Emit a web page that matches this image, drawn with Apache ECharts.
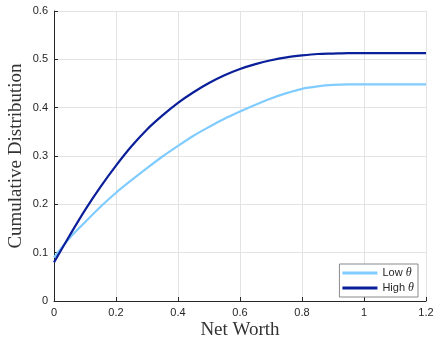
<!DOCTYPE html>
<html>
<head>
<meta charset="utf-8">
<script src="https://cdn.jsdelivr.net/npm/echarts@6/dist/echarts.min.js"></script>
<style>
  html, body { margin: 0; padding: 0; background: #fff; }
  #chart { width: 436px; height: 339px; }
</style>
</head>
<body>
<div id="chart"></div>
<script>
// net worth grid (x) and the two cumulative distributions
const netWorth = [0, 0.05, 0.1, 0.15, 0.2, 0.25, 0.3, 0.35, 0.4, 0.45, 0.5, 0.55, 0.6,
                  0.65, 0.7, 0.75, 0.8, 0.85, 0.9, 0.95, 1.0, 1.1, 1.2];
const lowTheta = [0.090, 0.130, 0.163, 0.195, 0.224, 0.250, 0.275, 0.299, 0.321, 0.342, 0.360, 0.377, 0.392,
                  0.406, 0.419, 0.430, 0.439, 0.444, 0.447, 0.448, 0.448, 0.448, 0.448];
const highTheta = [0.080, 0.135, 0.188, 0.236, 0.280, 0.320, 0.355, 0.384, 0.410, 0.432, 0.451, 0.467, 0.480,
                   0.490, 0.498, 0.504, 0.508, 0.511, 0.512, 0.513, 0.513, 0.513, 0.513];
const seriesNames = ['Low θ', 'High θ'];
const xTicks = [0, 0.2, 0.4, 0.6, 0.8, 1, 1.2];
const yTicks = [0, 0.1, 0.2, 0.3, 0.4, 0.5, 0.6];

const chart = echarts.init(document.getElementById('chart'));

const axisColor = '#262626';
const gridColor = '#e3e3e3';
const sans = 'Liberation Sans, Arial, sans-serif';
const serif = 'Liberation Serif, Times New Roman, serif';

function pairs(ys) {
  return netWorth.map((x, i) => [x, ys[i]]);
}

const option = {
  animation: false,
  grid: { left: 54, right: 10, top: 11, bottom: 38, containLabel: false, outerBoundsMode: 'none' },
  legend: {
    orient: 'vertical',
    right: 18,
    bottom: 42,
    backgroundColor: '#fff',
    borderColor: '#8a8a8a',
    borderWidth: 1,
    padding: [3, 4, 3, 3],
    itemGap: 3,
    itemWidth: 35,
    itemHeight: 3,
    icon: 'rect',
    data: seriesNames,
    formatter: name => name.replace('θ', '{it|θ}'),
    textStyle: {
      fontFamily: sans,
      fontSize: 11,
      color: axisColor,
      rich: {
        it: { fontFamily: serif, fontStyle: 'italic', fontSize: 12, color: axisColor }
      }
    }
  },
  xAxis: {
    type: 'value',
    min: xTicks[0],
    max: xTicks[xTicks.length - 1],
    interval: 0.2,
    name: 'Net Worth',
    nameLocation: 'middle',
    nameGap: 20,
    nameMoveOverlap: false,
    nameTextStyle: { fontFamily: serif, fontSize: 19, color: '#333' },
    axisLine: { lineStyle: { color: axisColor, width: 1 } },
    axisTick: { inside: true, length: 4, lineStyle: { color: axisColor } },
    axisLabel: {
      fontFamily: sans, fontSize: 11, color: axisColor, margin: 6,
      formatter: v => String(+v.toFixed(1))
    },
    splitLine: { show: true, lineStyle: { color: gridColor, width: 1 } }
  },
  yAxis: {
    type: 'value',
    min: yTicks[0],
    max: yTicks[yTicks.length - 1],
    interval: 0.1,
    name: 'Cumulative Distribution',
    nameLocation: 'middle',
    nameGap: 28,
    nameMoveOverlap: false,
    nameTextStyle: { fontFamily: serif, fontSize: 19, color: '#333' },
    axisLine: { show: true, lineStyle: { color: axisColor, width: 1 } },
    axisTick: { show: true, inside: true, length: 4, lineStyle: { color: axisColor } },
    axisLabel: {
      fontFamily: sans, fontSize: 11, color: axisColor, margin: 6,
      formatter: v => String(+v.toFixed(1))
    },
    splitLine: { show: true, lineStyle: { color: gridColor, width: 1 } }
  },
  series: [
    {
      name: seriesNames[0],
      type: 'line',
      data: pairs(lowTheta),
      smooth: 0.3,
      showSymbol: false,
      lineStyle: { color: '#80ccff', width: 2.2 },
      itemStyle: { color: '#80ccff' }
    },
    {
      name: seriesNames[1],
      type: 'line',
      data: pairs(highTheta),
      smooth: 0.3,
      showSymbol: false,
      lineStyle: { color: '#0a1f99', width: 2.2 },
      itemStyle: { color: '#0a1f99' }
    }
  ]
};

chart.setOption(option);
</script>
</body>
</html>
